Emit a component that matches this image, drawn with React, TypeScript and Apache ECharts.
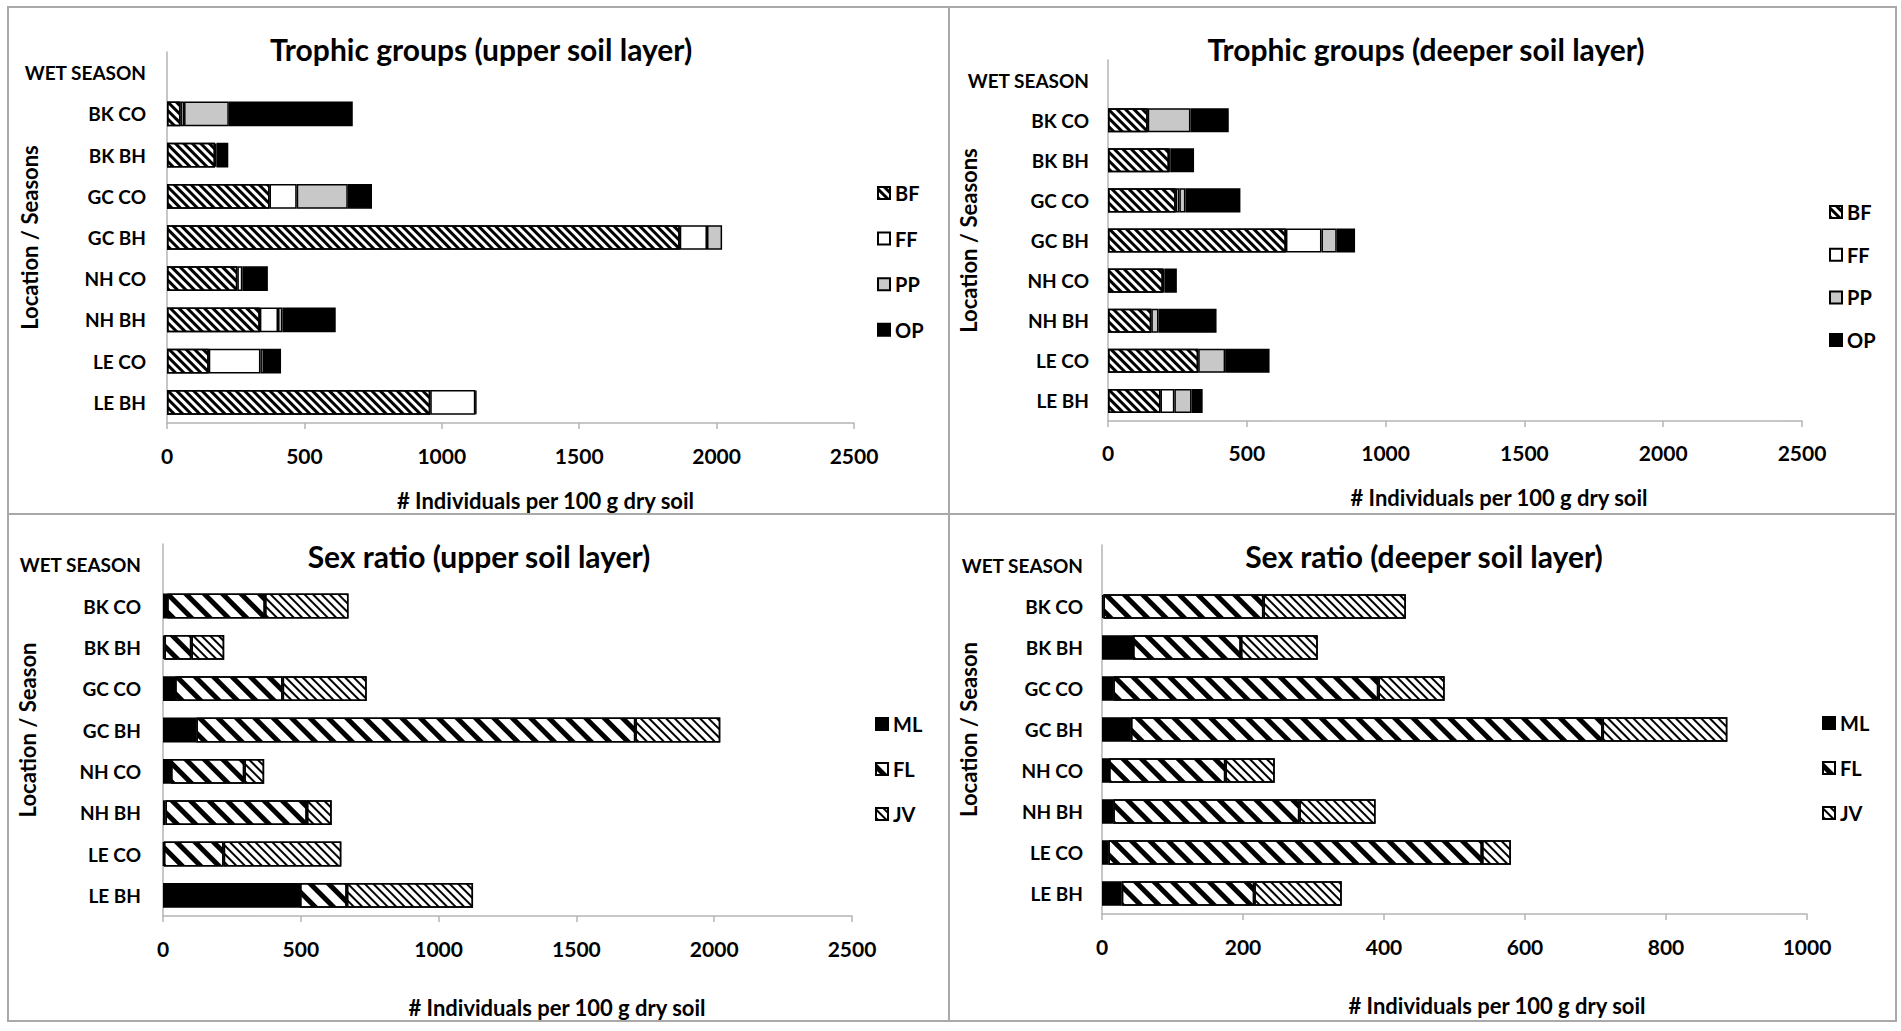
import React, { useEffect, useRef } from 'react';
import * as echarts from 'echarts';

const categories = ['WET SEASON', 'BK CO', 'BK BH', 'GC CO', 'GC BH', 'NH CO', 'NH BH', 'LE CO', 'LE BH'];

const trophicNames = ['BF', 'FF', 'PP', 'OP'];
const sexNames = ['ML', 'FL', 'JV'];

// Trophic groups, upper soil layer
const upperBF = [null, 49, 175, 373, 1866, 256, 338, 152, 958];
const upperFF = [null, 13, 5, 99, 99, 18, 66, 188, 164];
const upperPP = [null, 163, null, 186, 55, null, 16, 13, 4];
const upperOP = [null, 451, 43, 88, null, 93, 194, 62, null];

// Trophic groups, deeper soil layer
const deepBF = [null, 143, 220, 244, 641, 198, 156, 325, 189];
const deepFF = [null, null, 6, 13, 128, 6, null, null, 50];
const deepPP = [null, 154, null, 22, 55, null, 26, 97, 62];
const deepOP = [null, 138, 84, 198, 66, 44, 209, 160, 40];

// Sex ratio, upper soil layer
const upML = [null, 15, 5, 44, 121, 29, 9, 3, 497];
const upFL = [null, 355, 98, 390, 1593, 266, 513, 217, 170];
const upJV = [null, 303, 119, 305, 308, 72, 90, 427, 458];

// Sex ratio, deeper soil layer
const dpML = [null, 2, 44, 16, 41, 10, 16, 9, 28];
const dpFL = [null, 227, 153, 376, 669, 165, 264, 530, 188];
const dpJV = [null, 202, 109, 94, 177, 70, 108, 41, 124];

const titles = [
  'Trophic groups (upper soil layer)',
  'Trophic groups (deeper soil layer)',
  'Sex ratio (upper soil layer)',
  'Sex ratio (deeper soil layer)',
];
const yNames = ['Location / Seasons', 'Location / Seasons', 'Location / Season', 'Location / Season'];
const xName = '# Individuals per 100 g dry soil';
const xMax = [2500, 2500, 2500, 1000];
const xInterval = [500, 500, 500, 200];

const FONT = 'Lato';
const GRAY = '#b4b4b4';
const ROT = Math.PI / 4;

const decalBF = { symbol: 'rect', symbolSize: 1, dashArrayX: [1, 0], dashArrayY: [3, 2.6], rotation: ROT, color: '#000' };
const decalFL = { symbol: 'rect', symbolSize: 1, dashArrayX: [1, 0], dashArrayY: [5, 8], rotation: ROT, color: '#000' };
const decalJV = { symbol: 'rect', symbolSize: 1, dashArrayX: [1, 0], dashArrayY: [1.7, 3.4], rotation: ROT, color: '#000' };

const styles: Record<string, any> = {
  BF: { color: '#fff', decal: decalBF },
  FF: { color: '#fff' },
  PP: { color: '#c8c8c8' },
  OP: { color: '#000' },
  ML: { color: '#000' },
  FL: { color: '#fff', decal: decalFL },
  JV: { color: '#fff', decal: decalJV },
};

const grids = [
  { left: 167, top: 52, width: 687, height: 371 },
  { left: 1108, top: 60, width: 694, height: 361 },
  { left: 163, top: 544, width: 689, height: 372 },
  { left: 1102, top: 545, width: 705, height: 369 },
];
const titlePos = [
  [481, 49],
  [1426, 49],
  [479, 556],
  [1424, 556],
];
const xNameGap = [66, 65, 80, 80];
const xNamePad = [70, 88, 99, 85];
const xLabelMargin = [22, 21, 22, 22];
const yNameGap = [127, 129, 125, 123];
const yLabelMargin = [21, 19, 22, 19];
const legendPos = [
  { left: 877, top: 183, itemGap: 25.6, names: trophicNames },
  { left: 1829, top: 202, itemGap: 22.7, names: trophicNames },
  { left: 875, top: 714, itemGap: 25, names: sexNames },
  { left: 1822, top: 713, itemGap: 25, names: sexNames },
];

const seriesData: { name: string; data: (number | null)[] }[][] = [
  [
    { name: 'BF', data: upperBF },
    { name: 'FF', data: upperFF },
    { name: 'PP', data: upperPP },
    { name: 'OP', data: upperOP },
  ],
  [
    { name: 'BF', data: deepBF },
    { name: 'FF', data: deepFF },
    { name: 'PP', data: deepPP },
    { name: 'OP', data: deepOP },
  ],
  [
    { name: 'ML', data: upML },
    { name: 'FL', data: upFL },
    { name: 'JV', data: upJV },
  ],
  [
    { name: 'ML', data: dpML },
    { name: 'FL', data: dpFL },
    { name: 'JV', data: dpJV },
  ],
];

function buildOption() {
  const txt = { fontFamily: FONT, fontWeight: 'bold' as const, color: '#000' };
  const series: any[] = [];
  seriesData.forEach((group, gi) => {
    group.forEach((s) => {
      series.push({
        type: 'bar',
        name: s.name,
        xAxisIndex: gi,
        yAxisIndex: gi,
        stack: 'stack' + gi,
        barWidth: '60%',
        data: s.data,
        itemStyle: { ...styles[s.name], borderColor: '#000', borderWidth: 1.5 },
        emphasis: { disabled: true },
      });
    });
  });
  return {
    animation: false,
    backgroundColor: '#fff',
    title: titles.map((t, i) => ({
      text: t,
      left: titlePos[i][0],
      top: titlePos[i][1],
      textAlign: 'center',
      textVerticalAlign: 'middle',
      padding: 0,
      textStyle: { ...txt, fontSize: 30 },
    })),
    grid: grids.map((g) => ({ ...g, containLabel: false })),
    legend: legendPos.map((l) => ({
      orient: 'vertical',
      left: l.left,
      top: l.top,
      padding: 0,
      itemGap: l.itemGap,
      itemWidth: 12,
      itemHeight: 12,
      icon: 'rect',
      selectedMode: false,
      data: l.names,
      textStyle: { ...txt, fontSize: 20, lineHeight: 20 },
    })),
    xAxis: grids.map((_, i) => ({
      gridIndex: i,
      type: 'value',
      min: 0,
      max: xMax[i],
      interval: xInterval[i],
      axisLine: { show: true, lineStyle: { color: GRAY, width: 1.5 } },
      axisTick: { show: true, length: 6, lineStyle: { color: GRAY, width: 1.5 } },
      splitLine: { show: false },
      axisLabel: { ...txt, fontSize: 21, margin: xLabelMargin[i], formatter: (v: number) => String(v) },
      name: xName,
      nameLocation: 'middle',
      nameGap: xNameGap[i],
      nameMoveOverlap: false,
      nameTextStyle: { ...txt, fontSize: 22, padding: [0, 0, 0, xNamePad[i]] },
    })),
    yAxis: grids.map((_, i) => ({
      gridIndex: i,
      type: 'category',
      data: categories,
      inverse: true,
      axisLine: { show: true, lineStyle: { color: GRAY, width: 1.5 } },
      axisTick: { show: false },
      axisLabel: { ...txt, fontSize: 19, margin: yLabelMargin[i] },
      name: yNames[i],
      nameLocation: 'middle',
      nameGap: yNameGap[i],
      nameRotate: 90,
      nameMoveOverlap: false,
      nameTextStyle: { ...txt, fontSize: 22 },
    })),
    graphic: [
      { type: 'rect', silent: true, shape: { x: 8, y: 7, width: 1888, height: 1014 }, style: { fill: 'none', stroke: '#a9a9a9', lineWidth: 2 } },
      { type: 'line', silent: true, shape: { x1: 949, y1: 7, x2: 949, y2: 1021 }, style: { stroke: '#a9a9a9', lineWidth: 2 } },
      { type: 'line', silent: true, shape: { x1: 8, y1: 514, x2: 1896, y2: 514 }, style: { stroke: '#a9a9a9', lineWidth: 2 } },
    ],
    series,
  };
}

export default function App() {
  const ref = useRef<HTMLDivElement>(null);
  useEffect(() => {
    if (!ref.current) return;
    const chart = echarts.init(ref.current, undefined, { renderer: 'svg' });
    chart.setOption(buildOption() as any);
    return () => chart.dispose();
  }, []);
  return (
    <div
      ref={ref}
      style={{ position: 'fixed', left: 0, top: 0, width: 1901, height: 1031, background: '#fff' }}
    />
  );
}
